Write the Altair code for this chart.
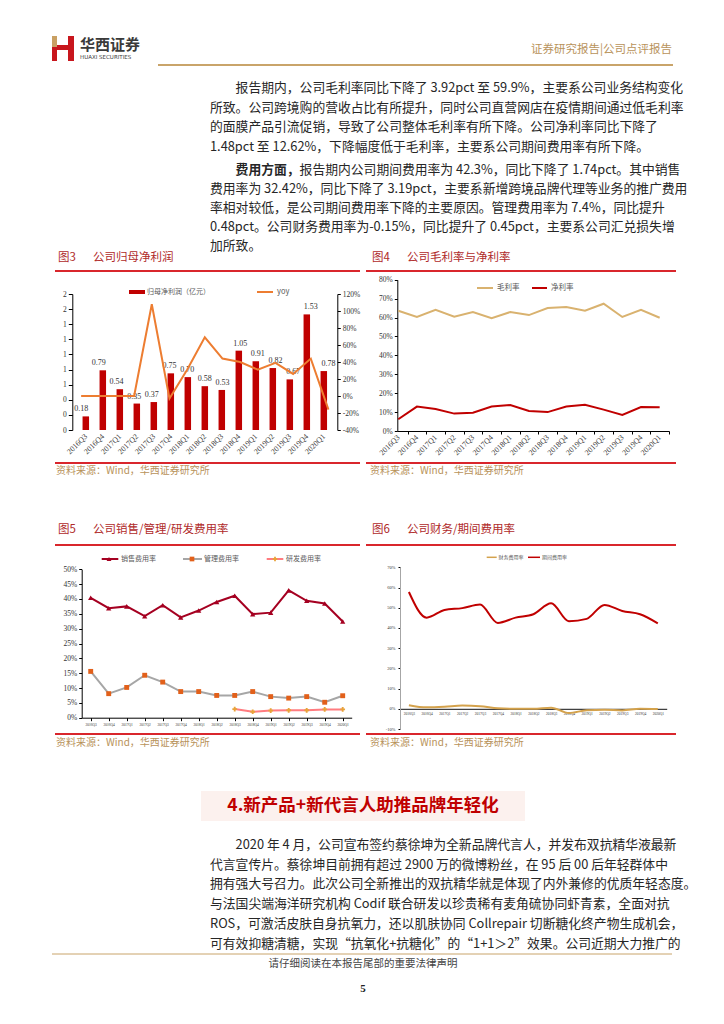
import json
import altair as alt
import pandas as pd

W, H = 708, 1008
OX, OY = 8, 8
CJK = "Noto Sans CJK SC"
SERIF = "Liberation Serif"
RED = "#C00000"
GOLD = "#B8925A"
FS = 12.8
BODY = "#262626"

# ---------------- data ----------------
quarters = ["2016Q3", "2016Q4", "2017Q1", "2017Q2", "2017Q3", "2017Q4", "2018Q1", "2018Q2",
            "2018Q3", "2018Q4", "2019Q1", "2019Q2", "2019Q3", "2019Q4", "2020Q1"]
net_profit = [0.18, 0.79, 0.54, 0.35, 0.37, 0.75, 0.70, 0.58, 0.53, 1.05, 0.91, 0.82, 0.67, 1.53, 0.78]
net_profit_yoy = [0, 0, 0, 0, 108, -3, 31, 69, 44, 40, 31, 39, 26, 44, -16]
gross_margin = [63.6, 60.3, 64.1, 60.4, 62.9, 59.6, 62.9, 61.3, 65.0, 65.6, 63.6, 67.3, 60.3, 64.1, 59.9]
net_margin = [6.2, 12.9, 11.6, 9.2, 9.7, 12.9, 13.7, 10.6, 10.0, 12.9, 13.9, 11.3, 8.5, 12.7, 12.62]
selling_rate = [40.4, 36.9, 37.5, 34.2, 37.9, 33.8, 36.1, 39.0, 41.1, 34.9, 35.4, 42.9, 39.4, 38.5, 32.42]
admin_rate = [15.6, 8.1, 10.2, 14.3, 12.0, 8.8, 8.8, 7.5, 7.5, 8.8, 7.1, 6.6, 7.1, 5.2, 7.4]
rd_rate = [None] * 8 + [2.9, 2.0, 2.4, 2.5, 2.5, 2.8, 2.8]
finance_rate = [1.8, 0.7, 1.0, 1.6, 1.3, 0.3, 0.0, 0.0, 0.5, -2.1, -0.7, -0.5, -0.8, 0.0, -0.15]
period_rate = [57.8, 45.1, 48.9, 49.8, 51.6, 42.5, 45.1, 46.8, 52.2, 43.3, 44.5, 51.4, 48.4, 46.8, 42.3]

header_left = "华西证券"
header_left_en = "HUAXI SECURITIES"
header_right = "证券研究报告|公司点评报告"
para1 = [
    "报告期内，公司毛利率同比下降了 3.92pct 至 59.9%，主要系公司业务结构变化",
    "所致。公司跨境购的营收占比有所提升，同时公司直营网店在疫情期间通过低毛利率",
    "的面膜产品引流促销，导致了公司整体毛利率有所下降。公司净利率同比下降了",
    "1.48pct 至 12.62%，下降幅度低于毛利率，主要系公司期间费用率有所下降。",
]
para2_bold = "费用方面，"
para2 = [
    "报告期内公司期间费用率为 42.3%，同比下降了 1.74pct。其中销售",
    "费用率为 32.42%，同比下降了 3.19pct，主要系新增跨境品牌代理等业务的推广费用",
    "率相对较低，是公司期间费用率下降的主要原因。管理费用率为 7.4%，同比提升",
    "0.48pct。公司财务费用率为-0.15%，同比提升了 0.45pct，主要系公司汇兑损失增",
    "加所致。",
]
section_title = "4.新产品+新代言人助推品牌年轻化"
para3 = [
    "2020 年 4 月，公司宣布签约蔡徐坤为全新品牌代言人，并发布双抗精华液最新",
    "代言宣传片。蔡徐坤目前拥有超过 2900 万的微博粉丝，在 95 后 00 后年轻群体中",
    "拥有强大号召力。此次公司全新推出的双抗精华就是体现了内外兼修的优质年轻态度。",
    "与法国尖端海洋研究机构 Codif 联合研发以珍贵稀有麦角硫协同虾青素，全面对抗",
    "ROS，可激活皮肤自身抗氧力，还以肌肤协同 Collrepair 切断糖化终产物生成机会，",
    "可有效抑糖清糖，实现“抗氧化+抗糖化”的“1+1＞2”效果。公司近期大力推广的",
]
fig_nums = ["图3", "图4", "图5", "图6"]
fig_titles = ["公司归母净利润", "公司毛利率与净利率", "公司销售/管理/研发费用率", "公司财务/期间费用率"]
source = "资料来源：Wind，华西证券研究所"
legend3 = ["归母净利润（亿元）", "yoy"]
legend4 = ["毛利率", "净利率"]
legend5 = ["销售费用率", "管理费用率", "研发费用率"]
legend6 = ["财务费用率", "期间费用率"]
footer = "请仔细阅读在本报告尾部的重要法律声明"
page_no = "5"

# ---------------- helpers ----------------
def px(x):
    return x - OX


def py(y):
    return y - OY


dummy = pd.DataFrame({"k": [0]})


def text(s, x, y, size=10.0, color="#222222", align="left", weight="normal", font=CJK):
    return alt.Chart(dummy).mark_text(
        text=s, align=align, baseline="middle", fontSize=size, color=color,
        fontWeight=weight, font=font
    ).encode(x=alt.value(px(x)), y=alt.value(py(y)))


def hline(x0, x1, y, color, w=1.0):
    return alt.Chart(dummy).mark_rule(color=color, strokeWidth=w).encode(
        x=alt.value(px(x0)), x2=alt.value(px(x1)), y=alt.value(py(y)))


def box(x0, y0, x1, y1, color):
    return alt.Chart(dummy).mark_rect(color=color).encode(
        x=alt.value(px(x0)), x2=alt.value(px(x1)), y=alt.value(py(y0)), y2=alt.value(py(y1)))


def marker(x, y, shape, color, size=30):
    return alt.Chart(dummy).mark_point(shape=shape, filled=True, color=color, size=size, opacity=1).encode(
        x=alt.value(px(x)), y=alt.value(py(y)))


def paragraph(lines, x, y0, lh, indent_chars=2, size=FS):
    """Lines of a paragraph; the first one is indented by `indent_chars` characters."""
    n = len(lines)
    df = pd.DataFrame({"row": list(range(n)), "ind": [1] + [0] * (n - 1), "line": lines})
    return alt.Chart(df).mark_text(
        align="left", baseline="middle", font=CJK, fontSize=size, color=BODY
    ).encode(
        x=alt.X("ind:Q", scale=alt.Scale(domain=[0, 1], range=[px(x), px(x + indent_chars * size)],
                                         nice=False, zero=False), axis=None),
        y=alt.Y("row:Q", scale=alt.Scale(domain=[0, n - 1], range=[py(y0), py(y0 + (n - 1) * lh)],
                                         nice=False, zero=False), axis=None),
        text="line:N",
    )


def xscale(x0, x1, d0=-0.5, d1=14.5):
    return alt.Scale(domain=[d0, d1], range=[px(x0), px(x1)], nice=False, zero=False)


def yscale(top, bottom, lo, hi):
    return alt.Scale(domain=[lo, hi], range=[py(bottom), py(top)], nice=False, zero=False)


COMMON = dict(grid=False, title=None, labelFlush=False, labelOverlap=False)


def ax_left(xpage, values, **kw):
    return alt.Axis(orient="left", offset=-px(xpage), values=values, **COMMON, **kw)


def ax_right(xpage, values, **kw):
    return alt.Axis(orient="right", offset=px(xpage) - W, values=values, **COMMON, **kw)


def ax_bottom(ypage, values, **kw):
    return alt.Axis(orient="bottom", offset=py(ypage) - H, values=values, **COMMON, **kw)


idx = list(range(len(quarters)))
qexpr = json.dumps(quarters) + "[datum.value]"
pct = "datum.value + '%'"

layers = []

# ---------------- header ----------------
layers += [
    box(52, 36, 57, 47, "#C9A063"),
    box(52, 47, 57, 61, "#C8161D"),
    box(68, 36, 74, 61, "#C8161D"),
    box(57, 45, 68, 50, "#C8161D"),
    text(header_left, 80, 45, size=15, color="#3a3a3a", weight="bold"),
    text(header_left_en, 80, 57, size=5.5, color="#3a3a3a", font="DejaVu Sans"),
    text(header_right, 672, 50, size=11.5, color=GOLD, align="right"),
    hline(158, 673, 65, "#C9A46A", 2),
]

# ---------------- paragraphs ----------------
P2Y = 170
layers += [
    paragraph(para1, 210, 88, 19.5),
    paragraph(para2, 210, P2Y, 18.9, indent_chars=2 + len(para2_bold)),
    text(para2_bold, 210 + 2 * FS, P2Y, size=FS, color=BODY, weight="bold"),
]

# ---------------- captions / frames ----------------
cap_pos = [(58, 258), (372, 258), (58, 530), (372, 530)]
for (cx, cy), num, ttl in zip(cap_pos, fig_nums, fig_titles):
    layers.append(text(num, cx, cy, size=11.5, color="#B02A2A"))
    layers.append(text(ttl, cx + 35, cy, size=11.5, color="#B02A2A"))
for y in (271, 463, 545, 734):
    layers.append(hline(55, 360, y, "#D9262C", 2))
    layers.append(hline(366, 676, y, "#D9262C", 2))
for sx, sy in [(56, 471), (370, 471), (56, 743), (370, 743)]:
    layers.append(text(source, sx, sy, size=10, color=GOLD))

# ---------------- chart 3: net profit ----------------
df3 = pd.DataFrame({"i": idx, "v": net_profit, "yoy": net_profit_yoy})
x3 = xscale(72.3, 337.3)
y3L = yscale(294, 430, 0, 1.8)
y3R = yscale(294, 430, -40, 120)
bars3 = alt.Chart(df3).mark_bar(size=6.5, color=RED).encode(
    x=alt.X("i:Q", scale=x3, axis=ax_bottom(431, idx, labelExpr=qexpr, labelAngle=-45, labelAlign="right",
                                            labelBaseline="middle", labelFontSize=7.8, labelPadding=4,
                                            domain=False, ticks=False)),
    y=alt.Y("v:Q", scale=y3L, axis=ax_left(72.3, [round(0.2 * k, 1) for k in range(10)], format=".0f",
                                          labelFontSize=7.5, tickSize=4, labelPadding=2)),
)
lab3 = alt.Chart(df3).mark_text(dy=-7, fontSize=8, font=SERIF, color="#333333").encode(
    x=alt.X("i:Q", scale=x3, axis=None),
    y=alt.Y("v:Q", scale=y3L, axis=None),
    text=alt.Text("v:Q", format=".2f"),
)
line3 = alt.Chart(df3).mark_line(color="#ED7D31", strokeWidth=2).encode(
    x=alt.X("i:Q", scale=x3, axis=None),
    y=alt.Y("yoy:Q", scale=y3R, axis=ax_right(337.3, list(range(-40, 121, 20)), labelExpr=pct,
                                             labelFontSize=7.5, tickSize=3, labelPadding=2)),
)
layers += [bars3, lab3, line3,
           box(129, 290, 145, 294, RED), text(legend3[0], 147, 292, size=7, color="#595959"),
           hline(257, 273, 292, "#ED7D31", 2), text(legend3[1], 277, 292, size=7.5, color="#595959")]

# ---------------- chart 4: margins ----------------
df4 = pd.DataFrame({"i": idx, "g": gross_margin, "n": net_margin})
x4 = xscale(397.3, 669, -0.05, 14.5)
y4 = yscale(279.7, 431, 0, 80)
g4 = alt.Chart(df4).mark_line(color="#D9B26F", strokeWidth=2).encode(
    x=alt.X("i:Q", scale=x4, axis=ax_bottom(431, idx, labelExpr=qexpr, labelAngle=-45, labelAlign="right",
                                            labelBaseline="middle", labelFontSize=7.8, labelPadding=5,
                                            ticks=False)),
    y=alt.Y("g:Q", scale=y4, axis=ax_left(397.3, list(range(0, 81, 10)), labelExpr=pct,
                                         labelFontSize=7.5, tickSize=3, labelPadding=2)),
)
n4 = alt.Chart(df4).mark_line(color=RED, strokeWidth=2).encode(
    x=alt.X("i:Q", scale=x4, axis=ax_bottom(431, [k + 0.5 for k in idx], labels=False, domain=False,
                                            tickSize=3)),
    y=alt.Y("n:Q", scale=y4, axis=None),
)
layers += [g4, n4,
           hline(477, 493, 288, "#D9B26F", 2), text(legend4[0], 497, 288, size=7.5, color="#595959"),
           hline(532, 547, 288, RED, 2), text(legend4[1], 551, 288, size=7.5, color="#595959")]

# ---------------- chart 5: expense ratios ----------------
df5 = pd.DataFrame({"i": idx, "s": selling_rate, "a": admin_rate, "r": rd_rate})
x5 = xscale(81.7, 351.7)
y5 = yscale(569.3, 717.7, 0, 50)
S_COL, A_COL, A_MK, R_COL, R_MK = "#A50021", "#A6A6A6", "#E2601A", "#FF7C80", "#E8A33A"
s5 = alt.Chart(df5).mark_line(color=S_COL, strokeWidth=2).encode(
    x=alt.X("i:Q", scale=x5, axis=ax_bottom(717.7, idx, labelExpr=qexpr, labelFontSize=3.5, labelPadding=2,
                                            tickSize=3)),
    y=alt.Y("s:Q", scale=y5, axis=ax_left(81.7, list(range(0, 51, 5)), labelExpr=pct,
                                         labelFontSize=7.5, tickSize=3, labelPadding=2)),
)
s5p = alt.Chart(df5).mark_point(shape="triangle-up", filled=True, color=S_COL, size=28, opacity=1).encode(
    x=alt.X("i:Q", scale=x5, axis=None), y=alt.Y("s:Q", scale=y5, axis=None))
a5 = alt.Chart(df5).mark_line(color=A_COL, strokeWidth=2).encode(
    x=alt.X("i:Q", scale=x5, axis=None), y=alt.Y("a:Q", scale=y5, axis=None))
a5p = alt.Chart(df5).mark_point(shape="square", filled=True, color=A_MK, size=24, opacity=1).encode(
    x=alt.X("i:Q", scale=x5, axis=None), y=alt.Y("a:Q", scale=y5, axis=None))
r5 = alt.Chart(df5).mark_line(color=R_COL, strokeWidth=2).encode(
    x=alt.X("i:Q", scale=x5, axis=None), y=alt.Y("r:Q", scale=y5, axis=None))
r5p = alt.Chart(df5).mark_point(shape="cross", filled=True, color=R_MK, size=22, opacity=1).encode(
    x=alt.X("i:Q", scale=x5, axis=None), y=alt.Y("r:Q", scale=y5, axis=None))
layers += [s5, a5, r5, s5p, a5p, r5p,
           hline(101.7, 118.3, 559, S_COL, 2), marker(109, 559, "triangle-up", S_COL, 24),
           text(legend5[0], 121, 559, size=7, color="#595959"),
           hline(183, 202, 559, A_COL, 2), marker(192, 559, "square", A_MK, 22),
           text(legend5[1], 204, 559, size=7, color="#595959"),
           hline(266.7, 283.3, 559, R_COL, 2), marker(275, 559, "cross", R_MK, 20),
           text(legend5[2], 286, 559, size=7, color="#595959")]

# ---------------- chart 6: finance / period expense ----------------
df6 = pd.DataFrame({"i": idx, "f": finance_rate, "p": period_rate})
x6 = xscale(400, 666.7)
y6 = yscale(567.3, 729, -10, 70)
p6 = alt.Chart(df6).mark_line(color=RED, strokeWidth=2, interpolate="monotone").encode(
    x=alt.X("i:Q", scale=x6, axis=ax_bottom(708.8, idx, labelExpr=qexpr, labelFontSize=3.5, labelPadding=3,
                                            ticks=False, domainColor="#404040", domainWidth=1.2)),
    y=alt.Y("p:Q", scale=y6, axis=ax_left(400, list(range(-10, 71, 10)), labelExpr=pct, labelFontSize=4.5,
                                         tickSize=2, labelPadding=3, domainColor="#A6A6A6")),
)
f6 = alt.Chart(df6).mark_line(color="#D4A24C", strokeWidth=2, interpolate="monotone").encode(
    x=alt.X("i:Q", scale=x6, axis=None), y=alt.Y("f:Q", scale=y6, axis=None))
layers += [f6, p6,
           hline(486.7, 496.7, 557.3, "#D4A24C", 1.5), text(legend6[0], 498.5, 557.3, size=5, color="#595959"),
           hline(528, 540, 557.3, RED, 1.5), text(legend6[1], 542, 557.3, size=5, color="#595959")]

# ---------------- section 4 ----------------
layers += [
    box(201, 791, 525, 821, "#FCF1EE"),
    text(section_title, 363, 806, size=17.5, color=RED, weight="bold", align="center"),
    paragraph(para3, 210, 845, 19.7),
]

# ---------------- footer ----------------
layers += [
    hline(52, 672, 954, "#C9A46A", 1),
    text(footer, 363, 964, size=10.5, color="#444444", align="center"),
    text(page_no, 363, 989, size=11, color="#222222", align="center", weight="bold", font=SERIF),
]

chart = alt.layer(*layers).resolve_scale(x="independent", y="independent").properties(
    width=W, height=H, padding=0, background="white"
).configure_view(stroke=None).configure_axis(
    labelFont=SERIF, labelColor="#333333", domainColor="#000000", tickColor="#000000",
    domainWidth=1, tickWidth=1
)

chart.save("out.html", embed_options={"renderer": "svg", "actions": False})
